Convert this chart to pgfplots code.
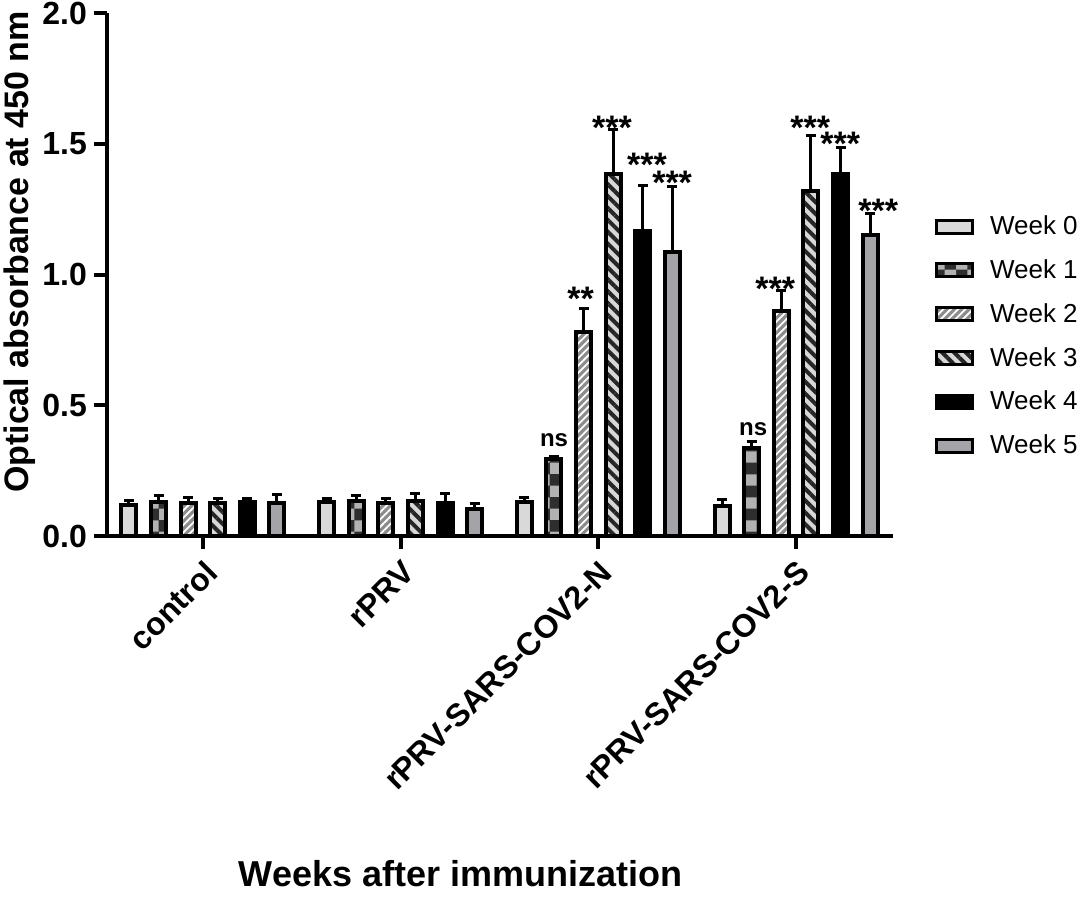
\documentclass[border=0pt]{standalone}
\usepackage{fontspec}
\setmainfont{Liberation Sans}
\usepackage{pgfplots}
\usepackage{pgfplotstable}
\pgfplotsset{compat=1.18}
\usetikzlibrary{patterns,patterns.meta}

\definecolor{wzero}{RGB}{217,217,217}
\definecolor{wtwo}{RGB}{140,140,140}
\definecolor{wthree}{RGB}{215,215,215}
\definecolor{wfive}{RGB}{163,163,168}

% x = group index + offset of the week within the group
\pgfplotstableread{
x y e
-0.374 0.120 0.015
0.626 0.130 0.015
1.626 0.130 0.018
2.626 0.115 0.025
}\weekzero
\pgfplotstableread{
x y e
-0.2245 0.130 0.025
0.7755 0.135 0.018
1.7755 0.295 0.008
2.7755 0.335 0.028
}\weekone
\pgfplotstableread{
x y e
-0.075 0.125 0.022
0.925 0.125 0.020
1.925 0.780 0.090
2.925 0.860 0.080
}\weektwo
\pgfplotstableread{
x y e
0.075 0.125 0.020
1.075 0.135 0.028
2.075 1.385 0.170
3.075 1.320 0.210
}\weekthree
\pgfplotstableread{
x y e
0.2245 0.130 0.013
1.2245 0.127 0.035
2.2245 1.165 0.175
3.2245 1.385 0.100
}\weekfour
\pgfplotstableread{
x y e
0.374 0.125 0.035
1.374 0.103 0.022
2.374 1.085 0.250
3.374 1.150 0.085
}\weekfive

\tikzset{
  sz/.style={fill=wzero},
  so/.style={fill=none, preaction={fill=black!82}, preaction={pattern=checkerboard, pattern color=gray!60}},
  stw/.style={fill=none, preaction={fill=wtwo}, preaction={pattern={Lines[angle=45,distance=2.6pt,line width=0.9pt]}, pattern color=white}},
  sth/.style={fill=none, preaction={fill=wthree}, preaction={pattern={Lines[angle=-45,distance=4.2pt,line width=2pt]}, pattern color=black!85}},
  sf/.style={fill=black},
  sv/.style={fill=wfive},
  star/.style={font=\fontsize{17}{19}\selectfont\bfseries, anchor=base},
  nsl/.style={font=\fontsize{12}{14}\selectfont\bfseries, anchor=base},
}

\pgfplotsset{
  mybar/.style={ybar, bar width=7.5pt, bar shift=0pt, draw=black, line width=2pt, forget plot},
  myerr/.style={draw=none, mark=none, forget plot,
    error bars/y dir=plus, error bars/y explicit,
    error bars/error bar style={draw=black, line width=1.5pt, solid},
    error bars/error mark options={draw=black, line width=1.5pt, mark size=2.5pt, rotate=90}},
}

\begin{document}
\begin{tikzpicture}
\begin{axis}[
  name=ax,
  scale only axis,
  width=393pt, height=261.5pt,
  xmin=-0.485, xmax=3.49,
  ymin=0, ymax=2,
  clip=false,
  axis lines*=left,
  axis line style={line width=2pt, black},
  tick style={line width=2pt, black},
  tick align=outside,
  major tick length=6.5pt,
  xtick={0,1,2,3},
  xticklabels={control,rPRV,rPRV-SARS-COV2-N,rPRV-SARS-COV2-S},
  ytick={0,0.5,1,1.5,2},
  yticklabel style={/pgf/number format/.cd, fixed, fixed zerofill, precision=1},
  /pgf/number format/assume math mode=true,
  ticklabel style={font=\fontsize{16}{19}\selectfont\bfseries},
  xticklabel style={rotate=45, anchor=north east},
  xlabel={Weeks after immunization},
  xlabel style={font=\fontsize{18}{21}\selectfont\bfseries, at={(axis description cs:0.45,-0.671)}, anchor=base},
  ylabel={Optical absorbance at 450 nm},
  ylabel style={font=\fontsize{17}{20}\selectfont\bfseries, at={(axis description cs:-0.111,0.543)}, anchor=center},
  legend image code/.code={\draw[#1, line width=1.5pt] (0pt,-3.25pt) rectangle (18pt,3.25pt);},
  legend style={at={(axis description cs:1.053,0.382)}, anchor=west, draw=none, fill=none,
    font=\fontsize{13}{15}\selectfont, inner sep=0pt, row sep=11pt, column sep=8pt,
    nodes={inner sep=0pt}},
  legend cell align=left,
]
\addplot[mybar, sz] table[x=x,y=y]{\weekzero};
\addplot[mybar, so] table[x=x,y=y]{\weekone};
\addplot[mybar, stw] table[x=x,y=y]{\weektwo};
\addplot[mybar, sth] table[x=x,y=y]{\weekthree};
\addplot[mybar, sf] table[x=x,y=y]{\weekfour};
\addplot[mybar, sv] table[x=x,y=y]{\weekfive};

\addplot[myerr] table[x=x,y=y,y error=e]{\weekzero};
\addplot[myerr] table[x=x,y=y,y error=e]{\weekone};
\addplot[myerr] table[x=x,y=y,y error=e]{\weektwo};
\addplot[myerr] table[x=x,y=y,y error=e]{\weekthree};
\addplot[myerr] table[x=x,y=y,y error=e]{\weekfour};
\addplot[myerr] table[x=x,y=y,y error=e]{\weekfive};

\addlegendimage{draw=black, sz}\addlegendentry{Week 0}
\addlegendimage{draw=black, so}\addlegendentry{Week 1}
\addlegendimage{draw=black, stw}\addlegendentry{Week 2}
\addlegendimage{draw=black, sth}\addlegendentry{Week 3}
\addlegendimage{draw=black, sf}\addlegendentry{Week 4}
\addlegendimage{draw=black, sv}\addlegendentry{Week 5}

\node[nsl] at (axis cs:1.776,0.342) {ns};
\node[star] at (axis cs:1.91,0.861) {**};
\node[star] at (axis cs:2.069,1.518) {***};
\node[star] at (axis cs:2.246,1.374) {***};
\node[star] at (axis cs:2.373,1.307) {***};
\node[nsl] at (axis cs:2.783,0.386) {ns};
\node[star] at (axis cs:2.894,0.899) {***};
\node[star] at (axis cs:3.071,1.518) {***};
\node[star] at (axis cs:3.223,1.454) {***};
\node[star] at (axis cs:3.415,1.199) {***};
\end{axis}
\pgfresetboundingbox
\path ([xshift=-53.5pt,yshift=-185.5pt]ax.south west) rectangle ++(542pt,453.5pt);
\end{tikzpicture}
\end{document}
